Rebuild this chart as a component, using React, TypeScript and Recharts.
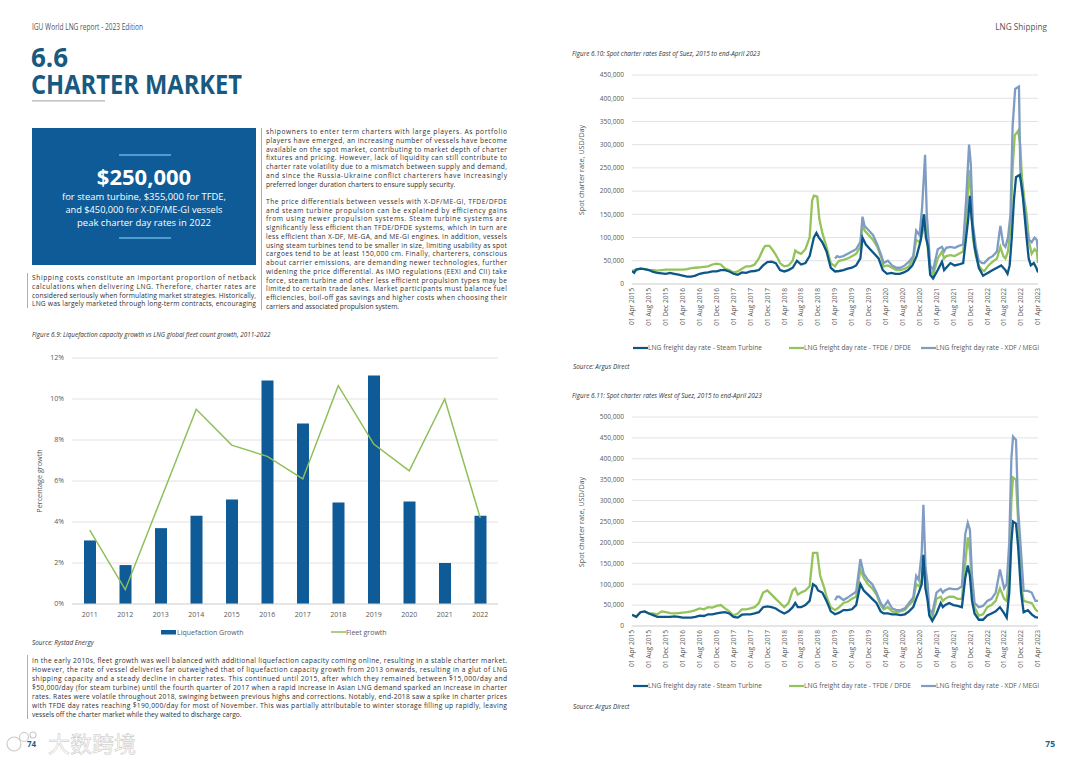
import React from 'react';
import { ComposedChart, LineChart, Bar, Line, XAxis, YAxis, CartesianGrid } from 'recharts';

// Figure 6.9 - liquefaction vs fleet growth (%)
const years = ['2011', '2012', '2013', '2014', '2015', '2016', '2017', '2018', '2019', '2020', '2021', '2022'];
const liquefactionGrowth = [3.1, 1.9, 3.7, 4.3, 5.1, 10.9, 8.8, 4.95, 11.15, 5.0, 2.0, 4.3];
const fleetGrowth = [3.6, 0.7, 5.1, 9.5, 7.75, 7.2, 6.1, 10.65, 7.8, 6.5, 10.0, 4.2];

// Spot charter rates: [months since 01 Apr 2015, USD/day in thousands]
const dateTicks = [
  '01 Apr 2015', '01 Aug 2015', '01 Dec 2015', '01 Apr 2016', '01 Aug 2016', '01 Dec 2016',
  '01 Apr 2017', '01 Aug 2017', '01 Dec 2017', '01 Apr 2018', '01 Aug 2018', '01 Dec 2018',
  '01 Apr 2019', '01 Aug 2019', '01 Dec 2019', '01 Apr 2020', '01 Aug 2020', '01 Dec 2020',
  '01 Apr 2021', '01 Aug 2021', '01 Dec 2021', '01 Apr 2022', '01 Aug 2022', '01 Dec 2022',
  '01 Apr 2023',
];

const eastSteam = [
  [0, 28], [0.5, 24], [1, 31], [2, 33], [3, 32], [4, 30], [5, 26], [6, 24], [7, 23], [8, 22], [9, 24], [10, 22],
  [11, 20], [12, 18], [13, 16], [14, 16], [15, 18], [16, 22], [17, 24], [18, 25], [19, 27], [20, 27], [21, 30],
  [22, 30], [23, 27], [24, 22], [25, 20], [26, 25], [27, 24], [28, 27], [29, 28], [30, 30], [31, 40], [32, 47],
  [33, 48], [34, 45], [35, 30], [36, 27], [37, 30], [38, 35], [39, 50], [40, 42], [41, 45], [42, 60], [43, 100],
  [43.6, 110], [44.2, 100], [45, 90], [46, 70], [47, 35], [48, 27], [49, 28], [50, 30], [51, 33], [52, 35],
  [53, 40], [54, 55], [54.5, 100], [55.3, 85], [56.3, 75], [57.3, 65], [58.3, 55], [59.3, 30], [60.3, 22],
  [61.3, 24], [62.3, 22], [63.3, 22], [64.3, 25], [65.3, 30], [66.3, 40], [67.3, 60], [68.3, 95], [69, 150],
  [69.5, 100], [70, 80], [70.5, 20], [71.2, 12], [72.3, 30], [73.3, 48], [73.8, 30], [74.3, 35], [75.3, 45],
  [76.3, 40], [77.3, 42], [78.3, 45], [79, 100], [79.5, 140], [79.9, 190], [80.3, 140], [81, 80], [82, 35],
  [83, 18], [84.3, 25], [85.3, 30], [86.3, 35], [87.3, 40], [88.3, 30], [88.8, 22], [89.3, 40], [89.8, 100],
  [90.3, 180], [90.8, 230], [91.7, 235], [92.3, 200], [92.8, 150], [93.3, 100], [93.8, 55], [94.3, 40],
  [95, 45], [95.6, 35], [96, 25],
];
const eastTfde = [
  [0, 28], [1, 31], [2, 33], [3, 32], [4, 30], [5, 30], [6, 29], [7, 30], [8, 31], [9, 31], [10, 31], [11, 31],
  [12, 31], [13, 32], [14, 34], [15, 35], [16, 36], [17, 37], [18, 38], [19, 42], [20, 44], [21, 42], [22, 33],
  [23, 30], [24, 25], [25, 27], [26, 33], [27, 38], [28, 38], [29, 42], [30, 55], [31, 75], [31.5, 82],
  [32.5, 82], [33.5, 70], [34.5, 55], [35, 45], [36, 38], [37, 40], [38, 50], [38.6, 72], [39.2, 68], [40, 65],
  [41, 75], [42, 100], [42.6, 180], [43, 190], [43.8, 188], [44.3, 140], [45, 110], [46, 80], [47, 45],
  [48, 38], [48.5, 45], [49, 50], [50, 52], [51, 55], [52, 60], [53, 65], [54, 80], [54.5, 130], [55, 115],
  [56, 105], [57, 95], [58, 80], [59, 55], [59.5, 38], [60.5, 40], [61.5, 35], [62.5, 30], [63.5, 30],
  [64.5, 33], [65.5, 38], [66.5, 55], [67.2, 95], [68, 90], [68.7, 110], [69.2, 150], [69.6, 110], [70, 70],
  [70.5, 30], [71.2, 20], [72.3, 55], [73.3, 70], [73.8, 55], [74.3, 60], [75.3, 62], [76.3, 60], [77.3, 65],
  [78.3, 70], [79, 130], [79.7, 245], [80.1, 200], [80.6, 100], [81.3, 60], [82, 40], [82.8, 30], [83.3, 28],
  [84.3, 40], [85.3, 48], [86.3, 55], [87.1, 80], [87.8, 60], [88.3, 55], [88.9, 70], [89.5, 120], [90, 250],
  [90.5, 320], [91.3, 330], [91.8, 300], [92.2, 230], [92.8, 180], [93.3, 150], [93.9, 90], [94.5, 65],
  [95.2, 75], [95.7, 70], [96, 45],
];
const eastXdf = [
  [48, 55], [48.5, 60], [49, 58], [50, 60], [51, 65], [52, 70], [53, 75], [54, 90], [54.5, 145], [55, 125],
  [56, 115], [57, 105], [58, 85], [59, 60], [59.5, 45], [60.5, 50], [61.5, 40], [62.5, 35], [63.5, 35],
  [64.5, 40], [65.5, 48], [66.5, 60], [67.2, 115], [68, 105], [68.6, 165], [69.3, 278], [69.7, 150],
  [70.1, 100], [70.5, 40], [71.2, 30], [72.3, 75], [73.3, 80], [73.8, 70], [74.3, 78], [75.3, 80], [76.3, 78],
  [77.3, 82], [78.3, 85], [79, 180], [79.7, 300], [80.1, 260], [80.6, 130], [81.3, 80], [82, 50], [82.8, 45],
  [83.3, 45], [84.3, 55], [85.3, 60], [86.3, 70], [87.1, 125], [87.8, 85], [88.3, 80], [88.9, 100],
  [89.5, 150], [90, 340], [90.6, 420], [91.5, 425], [91.8, 250], [92.2, 200], [92.8, 170], [93.3, 120],
  [93.9, 95], [94.5, 90], [95.2, 100], [95.7, 95], [96, 70],
];

const westSteam = [
  [0, 27], [1, 22], [2, 33], [3, 35], [4, 30], [5, 26], [6, 22], [7, 22], [8, 22], [9, 22], [10, 23], [11, 22],
  [12, 20], [13, 20], [14, 20], [15, 22], [16, 25], [17, 24], [18, 28], [19, 28], [20, 30], [21, 32], [22, 33],
  [23, 30], [24, 22], [25, 20], [26, 27], [27, 28], [28, 28], [29, 30], [30, 33], [31, 45], [32, 47], [33, 45],
  [34, 42], [35, 35], [36, 30], [37, 35], [38, 45], [38.6, 55], [39.2, 45], [40, 45], [41, 50], [42, 60],
  [42.8, 100], [43.5, 95], [44, 85], [45, 80], [46, 60], [47, 35], [48, 28], [49, 32], [50, 38], [51, 38],
  [52, 40], [53, 50], [54, 100], [54.8, 85], [55.8, 75], [56.8, 65], [57.8, 55], [58.8, 35], [59.5, 30],
  [60.5, 30], [61.5, 28], [62.5, 28], [63.5, 26], [64.5, 28], [65.5, 35], [66.5, 45], [67.2, 65], [67.8, 80],
  [68.5, 100], [68.9, 170], [69.4, 90], [69.9, 60], [70.3, 25], [71, 12], [72, 30], [73, 55], [73.5, 45],
  [74, 50], [75, 55], [76, 50], [77, 48], [78, 45], [78.8, 115], [79.4, 145], [79.9, 120], [80.4, 60], [81, 30],
  [82, 15], [83, 15], [84, 25], [85, 30], [86, 35], [87, 45], [88, 30], [88.6, 20], [89.2, 80], [89.7, 200],
  [90.1, 250], [90.8, 245], [91.3, 190], [92, 80], [92.6, 33], [93.6, 38], [94.5, 28], [95.4, 21], [96, 20],
];
const westTfde = [
  [0, 27], [1, 22], [2, 33], [3, 35], [4, 30], [5, 30], [6, 28], [7, 35], [8, 33], [9, 31], [10, 30], [11, 31],
  [12, 32], [13, 33], [14, 35], [15, 38], [16, 42], [17, 40], [18, 45], [19, 44], [20, 48], [21, 50], [22, 42],
  [23, 35], [24, 25], [25, 30], [26, 40], [27, 40], [28, 42], [29, 45], [30, 55], [31, 80], [32, 85], [33, 75],
  [34, 65], [35, 55], [36, 45], [37, 55], [38, 85], [38.6, 90], [39.2, 75], [40, 80], [41, 85], [42, 95],
  [42.8, 175], [43.8, 175], [44.5, 120], [45.5, 90], [46, 70], [47, 45], [48, 38], [49, 45], [50, 55],
  [51, 58], [52, 65], [53, 70], [54, 135], [54.8, 115], [55.8, 100], [56.8, 90], [57.8, 75], [58.8, 50],
  [59.5, 40], [60.5, 45], [61.5, 35], [62.5, 33], [63.5, 35], [64.5, 38], [65.5, 50], [66.5, 60], [67.2, 100],
  [67.8, 95], [68.5, 110], [68.9, 160], [69.4, 90], [69.9, 80], [70.3, 30], [71, 20], [72, 65], [73, 70],
  [73.5, 60], [74, 65], [75, 70], [76, 70], [77, 65], [78, 65], [78.8, 150], [79.4, 212], [79.9, 180],
  [80.4, 90], [81, 45], [82, 25], [83, 28], [84, 45], [85, 50], [86, 60], [87, 90], [88, 65], [88.6, 60],
  [89.2, 120], [89.7, 300], [90.1, 355], [90.8, 350], [91.3, 250], [92, 100], [92.6, 60], [93.6, 57],
  [94.5, 55], [95.4, 40], [96, 34],
];
const westXdf = [
  [48, 62], [48.5, 70], [49, 70], [50, 62], [51, 68], [52, 75], [53, 82], [54, 160], [54.8, 125], [55.8, 110],
  [56.8, 100], [57.8, 80], [58.8, 55], [59.5, 45], [60.5, 60], [61.5, 42], [62.5, 38], [63.5, 38], [64.5, 42],
  [65.5, 55], [66.5, 68], [67.2, 120], [67.8, 110], [68.5, 175], [68.9, 290], [69.4, 140], [69.9, 100],
  [70.3, 40], [71, 30], [72, 80], [73, 88], [73.5, 80], [74, 85], [75, 90], [76, 88], [77, 88], [78, 95],
  [78.8, 220], [79.4, 247], [79.9, 230], [80.4, 120], [81, 55], [82, 45], [83, 48], [84, 60], [85, 65],
  [86, 80], [87, 135], [88, 90], [88.6, 100], [89.2, 200], [89.7, 400], [90.1, 453], [90.8, 445], [91.3, 280],
  [92, 176], [92.6, 84], [93.6, 84], [94.5, 80], [95.4, 60], [96, 60],
];

const leftPara = [
  'Shipping costs constitute an important proportion of netback',
  'calculations when delivering LNG. Therefore, charter rates are',
  'considered seriously when formulating market strategies. Historically,',
  'LNG was largely marketed through long-term contracts, encouraging',
];
const rightPara1 = [
  'shipowners to enter term charters with large players. As portfolio',
  'players have emerged, an increasing number of vessels have become',
  'available on the spot market, contributing to market depth of charter',
  'fixtures and pricing. However, lack of liquidity can still contribute to',
  'charter rate volatility due to a mismatch between supply and demand,',
  'and since the Russia-Ukraine conflict charterers have increasingly',
  'preferred longer duration charters to ensure supply security.',
];
const rightPara2 = [
  'The price differentials between vessels with X-DF/ME-GI, TFDE/DFDE',
  'and steam turbine propulsion can be explained by efficiency gains',
  'from using newer propulsion systems. Steam turbine systems are',
  'significantly less efficient than TFDE/DFDE systems, which in turn are',
  'less efficient than X-DF, ME-GA, and ME-GI engines. In addition, vessels',
  'using steam turbines tend to be smaller in size, limiting usability as spot',
  'cargoes tend to be at least 150,000 cm. Finally, charterers, conscious',
  'about carrier emissions, are demanding newer technologies, further',
  'widening the price differential. As IMO regulations (EEXI and CII) take',
  'force, steam turbine and other less efficient propulsion types may be',
  'limited to certain trade lanes. Market participants must balance fuel',
  'efficiencies, boil-off gas savings and higher costs when choosing their',
  'carriers and associated propulsion system.',
];
const bottomPara = [
  'In the early 2010s, fleet growth was well balanced with additional liquefaction capacity coming online, resulting in a stable charter market.',
  'However, the rate of vessel deliveries far outweighed that of liquefaction capacity growth from 2013 onwards, resulting in a glut of LNG',
  'shipping capacity and a steady decline in charter rates. This continued until 2015, after which they remained between $15,000/day and',
  '$50,000/day (for steam turbine) until the fourth quarter of 2017 when a rapid increase in Asian LNG demand sparked an increase in charter',
  'rates. Rates were volatile throughout 2018, swinging between previous highs and corrections. Notably, end-2018 saw a spike in charter prices',
  'with TFDE day rates reaching $190,000/day for most of November. This was partially attributable to winter storage filling up rapidly, leaving',
  'vessels off the charter market while they waited to discharge cargo.',
];

const FONT = '"Open Sans", sans-serif';
const STEAM = '#0c5689';
const TFDE = '#93c35a';
const XDF = '#7f9dc2';
const TEXT = '#2f2f2f';

const toPoints = (rows: number[][]) => rows.map(([m, v]) => ({ m, v: v * 1000 }));
const monthTicks = dateTicks.map((_, i) => i * 4);

const DateTick = (props: any) => {
  const { x, y, payload } = props;
  return (
    <text
      x={x}
      y={y}
      dx={4}
      dy={2.3}
      transform={`rotate(-90 ${x} ${y})`}
      textAnchor="end"
      fontSize={6.6}
      fill="#595959"
      fontFamily={FONT}
    >
      {dateTicks[Math.round(payload.value / 4)]}
    </text>
  );
};

const Para = ({ lines, x, y, w, lh, size, justifyLast = false }: any) => (
  <g fontSize={size} fill={TEXT}>
    {lines.map((t: string, i: number) => {
      const full = i < lines.length - 1 || justifyLast;
      return (
        <text key={i} x={x} y={y + i * lh + size * 0.35} textLength={full ? w : undefined} lengthAdjust={full ? 'spacing' : undefined}>
          {t}
        </text>
      );
    })}
  </g>
);

const SpotLegend = ({ y }: { y: number }) => (
  <g fontSize={6.7} fill="#595959">
    <line x1={633} x2={648} y1={y} y2={y} stroke={STEAM} strokeWidth={2.2} />
    <text x={648} y={y + 2.3}>LNG freight day rate - Steam Turbine</text>
    <line x1={789} x2={804} y1={y} y2={y} stroke={TFDE} strokeWidth={2.2} />
    <text x={804} y={y + 2.3}>LNG freight day rate - TFDE / DFDE</text>
    <line x1={921} x2={936} y1={y} y2={y} stroke={XDF} strokeWidth={2.2} />
    <text x={936} y={y + 2.3}>LNG freight day rate - XDF / MEGI</text>
  </g>
);

const SpotChart = ({ steam, tfde, xdf, yMax }: any) => {
  const yTicks: number[] = [];
  for (let v = 0; v <= yMax; v += 50000) yTicks.push(v);
  return (
    <LineChart width={480} height={274} margin={{ top: 10, right: 12, left: 14, bottom: 0 }}>
      <CartesianGrid vertical={false} stroke="#e2e2e2" />
      <XAxis
        type="number"
        dataKey="m"
        domain={[0, 96]}
        ticks={monthTicks}
        interval={0}
        height={55}
        tick={<DateTick />}
        tickLine={false}
        axisLine={{ stroke: '#d9d9d9' }}
        allowDataOverflow
      />
      <YAxis
        width={48}
        domain={[0, yMax]}
        ticks={yTicks}
        interval={0}
        tickLine={false}
        axisLine={false}
        tick={{ fontSize: 6.6, fill: '#595959', fontFamily: FONT }}
        tickFormatter={(v: number) => v.toLocaleString('en-US')}
      />
      <Line data={toPoints(tfde)} dataKey="v" stroke={TFDE} strokeWidth={2.3} dot={false} type="linear" isAnimationActive={false} />
      <Line data={toPoints(xdf)} dataKey="v" stroke={XDF} strokeWidth={2.3} dot={false} type="linear" isAnimationActive={false} />
      <Line data={toPoints(steam)} dataKey="v" stroke={STEAM} strokeWidth={2.3} dot={false} type="linear" isAnimationActive={false} />
    </LineChart>
  );
};

const growthData = years.map((year, i) => ({ year, liq: liquefactionGrowth[i], fleet: fleetGrowth[i] }));

const App: React.FC = () => {
  return (
    <div
      style={{
        position: 'fixed',
        left: 0,
        top: 0,
        width: 1080,
        height: 763,
        background: '#fff',
        overflow: 'hidden',
        fontFamily: FONT,
      }}
    >
      <svg width={1080} height={763} style={{ position: 'absolute', left: 0, top: 0 }} fontFamily={FONT}>
        {/* running headers */}
        <text x={32} y={30} fontSize={8.2} fill="#555" textLength={111} lengthAdjust="spacingAndGlyphs">
          IGU World LNG report - 2023 Edition
        </text>
        <text x={1047} y={30} fontSize={8.2} fill="#555" textAnchor="end">LNG Shipping</text>

        {/* section title (one text element, two lines) */}
        <text fill="#17597f" fontWeight={700} fontSize={26}>
          <tspan x={31} y={67}>6.6</tspan>
          <tspan x={31} y={94} textLength={211} lengthAdjust="spacingAndGlyphs">CHARTER MARKET</tspan>
        </text>
        <rect x={32} y={100} width={73} height={1.6} fill="#c4c4c4" />

        {/* highlight box */}
        <rect x={32} y={128} width={224} height={137} fill="#0e5b97" />
        <rect x={119} y={154.3} width={52} height={1.4} fill="#6bb8e8" />
        <rect x={119} y={237.3} width={52} height={1.4} fill="#6bb8e8" />
        <g fill="#fff" textAnchor="middle">
          <text x={144} y={185} fontSize={22} fontWeight={700}>$250,000</text>
          <text x={144} y={200.3} fontSize={9.4} textLength={164} lengthAdjust="spacingAndGlyphs">for steam turbine, $355,000 for TFDE,</text>
          <text x={144} y={213} fontSize={9.4} textLength={157} lengthAdjust="spacingAndGlyphs">and $450,000 for X-DF/ME-GI vessels</text>
          <text x={144} y={225.5} fontSize={9.4} textLength={134} lengthAdjust="spacingAndGlyphs">peak charter day rates in 2022</text>
        </g>

        {/* body text */}
        <rect x={27} y={273} width={0.8} height={35} fill="#9a9a9a" />
        <Para lines={leftPara} x={32} y={278} w={224} lh={8.7} size={6.7} justifyLast />
        <rect x={261} y={128} width={0.8} height={182} fill="#9a9a9a" />
        <Para lines={rightPara1} x={266} y={132} w={241} lh={8.7} size={6.7} />
        <Para lines={rightPara2} x={266} y={201.5} w={241} lh={8.75} size={6.7} />

        {/* figure 6.9 captions */}
        <text x={32} y={337} fontSize={6.4} fontStyle="italic" fill="#333">
          Figure 6.9: Liquefaction capacity growth vs LNG global fleet count growth, 2011-2022
        </text>
        <text transform="translate(42 481) rotate(-90)" textAnchor="middle" fontSize={7.2} fill="#595959">
          Percentage growth
        </text>
        <g fontSize={7} fill="#595959">
          <rect x={161} y={630} width={15} height={4.5} fill="#0e5b97" />
          <text x={177} y={634.5}>Liquefaction Growth</text>
          <line x1={331} x2={346} y1={632} y2={632} stroke="#8fbf5a" strokeWidth={1.5} />
          <text x={346} y={634.5}>Fleet growth</text>
        </g>
        <text x={32} y={645} fontSize={6.4} fontStyle="italic" fill="#333">Source: Rystad Energy</text>

        <rect x={27} y={655} width={0.8} height={64} fill="#9a9a9a" />
        <Para lines={bottomPara} x={32} y={660.5} w={475} lh={9} size={6.7} />

        {/* figure 6.10 / 6.11 text */}
        <text x={572} y={56} fontSize={6.4} fontStyle="italic" fill="#333">
          Figure 6.10: Spot charter rates East of Suez, 2015 to end-April 2023
        </text>
        <text transform="translate(584 170) rotate(-90)" textAnchor="middle" fontSize={7.2} fill="#595959">
          Spot charter rate, USD/Day
        </text>
        <SpotLegend y={348} />
        <text x={573} y={369} fontSize={6.4} fontStyle="italic" fill="#333">Source: Argus Direct</text>

        <text x={572} y={398} fontSize={6.4} fontStyle="italic" fill="#333">
          Figure 6.11: Spot charter rates West of Suez, 2015 to end-April 2023
        </text>
        <text transform="translate(584 522) rotate(-90)" textAnchor="middle" fontSize={7.2} fill="#595959">
          Spot charter rate, USD/Day
        </text>
        <SpotLegend y={686} />
        <text x={573} y={709} fontSize={6.4} fontStyle="italic" fill="#333">Source: Argus Direct</text>

        {/* page numbers and watermark */}
        <text x={27} y={747} fontSize={8} fontWeight={700} fill="#1f5f8c">74</text>
        <text x={1055} y={747} fontSize={8.5} fontWeight={700} fill="#1f5f8c" textAnchor="end">75</text>
        <g fill="none" stroke="#c9c9c9" strokeWidth={1.1}>
          <circle cx={14} cy={744} r={7} />
          <circle cx={24} cy={737} r={4.5} />
          <circle cx={33} cy={735} r={3} />
        </g>
        <text
          x={48}
          y={752}
          fontSize={22}
          fill="#ffffff"
          stroke="#c4c4c4"
          strokeWidth={0.5}
          fontFamily='"Noto Sans CJK SC", sans-serif'
        >
          大数跨境
        </text>
      </svg>

      {/* Figure 6.9 */}
      <div style={{ position: 'absolute', left: 20, top: 348 }}>
        <ComposedChart width={490} height={276} data={growthData} margin={{ top: 10, right: 12, left: 10, bottom: 0 }}>
          <CartesianGrid vertical={false} stroke="#e2e2e2" />
          <XAxis
            dataKey="year"
            height={20}
            tickLine={false}
            axisLine={{ stroke: '#d9d9d9' }}
            tick={{ fontSize: 7, fill: '#595959', fontFamily: FONT }}
            interval={0}
          />
          <YAxis
            width={42}
            domain={[0, 12]}
            ticks={[0, 2, 4, 6, 8, 10, 12]}
            interval={0}
            tickLine={false}
            axisLine={false}
            tick={{ fontSize: 7, fill: '#595959', fontFamily: FONT }}
            tickFormatter={(v: number) => `${v}%`}
          />
          <Bar dataKey="liq" fill="#0e5b97" barSize={12} isAnimationActive={false} />
          <Line dataKey="fleet" stroke="#8fbf5a" strokeWidth={1.5} dot={false} type="linear" isAnimationActive={false} />
        </ComposedChart>
      </div>

      {/* Figure 6.10 */}
      <div style={{ position: 'absolute', left: 570, top: 65 }}>
        <SpotChart steam={eastSteam} tfde={eastTfde} xdf={eastXdf} yMax={450000} />
      </div>

      {/* Figure 6.11 */}
      <div style={{ position: 'absolute', left: 570, top: 407 }}>
        <SpotChart steam={westSteam} tfde={westTfde} xdf={westXdf} yMax={500000} />
      </div>
    </div>
  );
};

export default App;
